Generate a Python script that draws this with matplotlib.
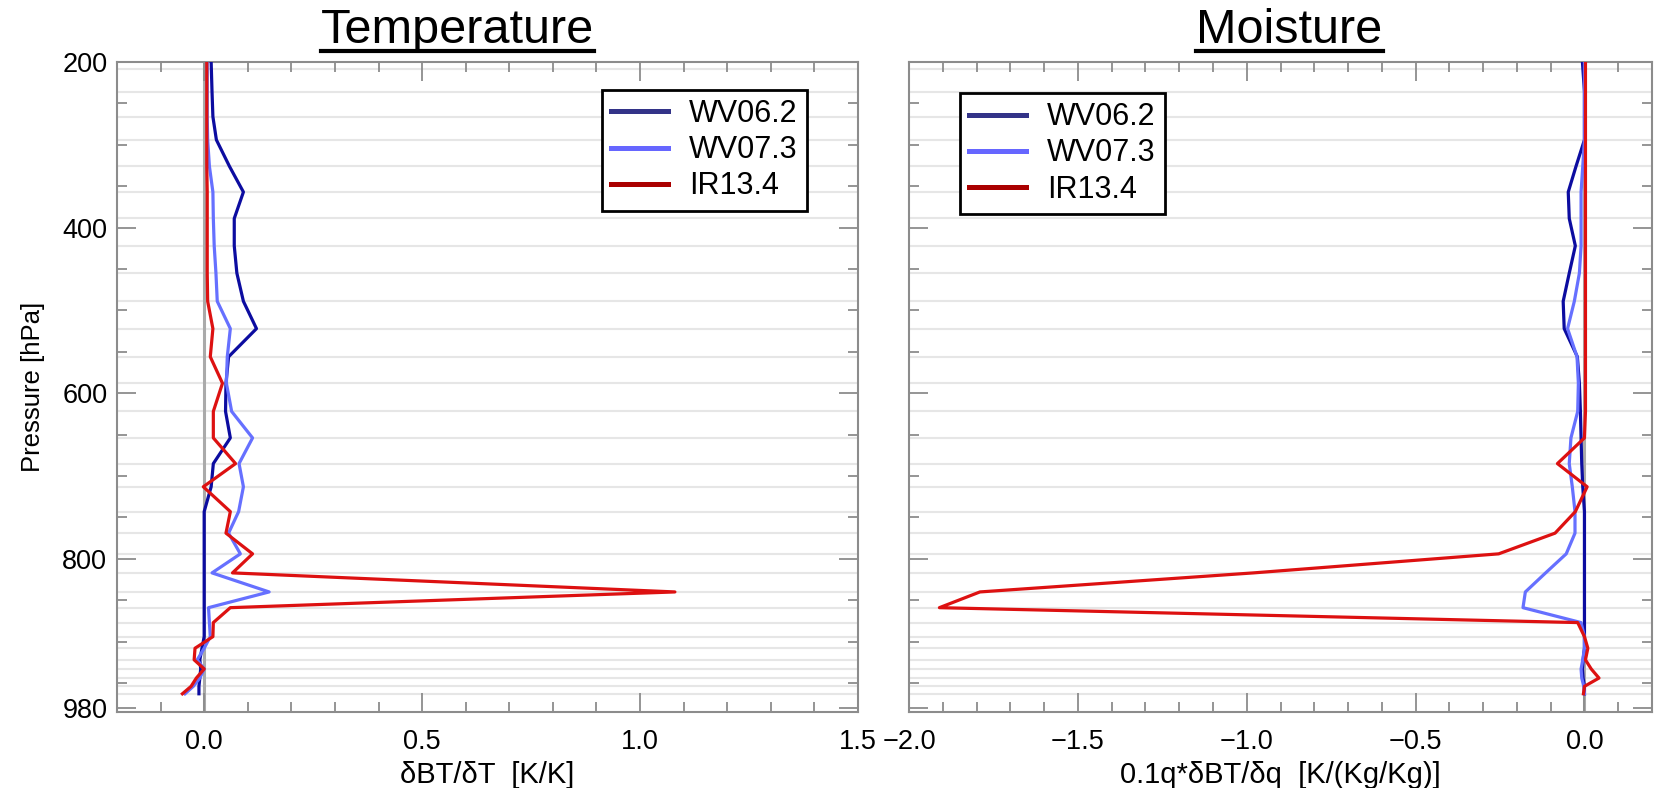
import matplotlib
matplotlib.use("Agg")
import matplotlib.pyplot as plt
from matplotlib.ticker import MultipleLocator, FixedLocator
from matplotlib.lines import Line2D

plt.rcParams['font.family'] = ['Liberation Sans', 'DejaVu Sans']

# pressure levels of the profiles [hPa]
pressure = [200, 236, 266, 294, 326, 357, 389, 422, 455, 489, 522, 556, 588, 622,
            654, 685, 713, 743, 769, 794, 817, 840, 859, 877, 894, 908, 922, 933,
            944, 954, 963]
# model levels drawn as light horizontal lines
grid_levels = [208, 236, 266, 294, 326, 357, 389, 422, 455, 489, 522, 556, 588, 622,
               654, 685, 713, 743, 769, 794, 817, 840, 859, 877, 894, 908, 922, 933,
               944, 954, 963]

channels = ['WV06.2', 'WV07.3', 'IR13.4']

# temperature jacobians dBT/dT [K/K]
t_wv62 = [0.016, 0.018, 0.02, 0.028, 0.058, 0.09, 0.069, 0.069, 0.075, 0.09, 0.12,
          0.056, 0.05, 0.049, 0.06, 0.021, 0.016, 0.0, 0.0, 0.0, 0.0, 0.0, 0.0, 0.0,
          0.0, -0.005, -0.01, -0.008, -0.01, -0.012, -0.012]
t_wv73 = [0.007, 0.007, 0.007, 0.008, 0.012, 0.02, 0.021, 0.023, 0.027, 0.03, 0.06,
          0.053, 0.051, 0.063, 0.111, 0.08, 0.09, 0.079, 0.056, 0.083, 0.018, 0.149,
          0.01, 0.012, 0.014, 0.0, -0.016, 0.0, -0.01, -0.025, -0.044]
t_ir134 = [0.006, 0.006, 0.006, 0.006, 0.006, 0.007, 0.007, 0.007, 0.007, 0.008, 0.02,
           0.014, 0.042, 0.021, 0.021, 0.072, -0.002, 0.06, 0.05, 0.111, 0.065, 1.08,
           0.06, 0.021, 0.02, -0.021, -0.023, 0.0, -0.018, -0.03, -0.05]

# moisture jacobians 0.1q*dBT/dq [K/(Kg/Kg)]
q_wv62 = [-0.006, 0.0, 0.0, 0.0, -0.025, -0.048, -0.045, -0.027, -0.045, -0.063, -0.06,
          -0.021, -0.015, -0.012, -0.01, -0.008, -0.005, 0.0, 0.0, 0.0, 0.0, 0.0, 0.0,
          0.0, 0.0, 0.0, -0.004, -0.006, -0.004, 0.0, 0.0]
q_wv73 = [0.0, 0.0, 0.0, 0.0, -0.005, -0.01, -0.01, -0.01, -0.015, -0.03, -0.05,
          -0.022, -0.018, -0.02, -0.04, -0.045, -0.036, -0.028, -0.028, -0.054, -0.115,
          -0.175, -0.182, -0.01, 0.0, 0.0, -0.005, -0.01, -0.008, -0.002, 0.0]
q_ir134 = [0.003, 0.003, 0.003, 0.003, 0.003, 0.003, 0.003, 0.003, 0.003, 0.003, 0.003,
           0.003, 0.003, 0.003, 0.0, -0.08, 0.008, -0.027, -0.087, -0.254, -0.98, -1.79,
           -1.91, -0.02, 0.0, 0.01, 0.003, 0.02, 0.043, 0.0, -0.003]

line_colors = ['#0c0ca0', '#6670ff', '#dd1111']
legend_colors = ['#333388', '#6666ff', '#aa0000']
spine_gray = '#8c8c8c'

fig = plt.figure(figsize=(16.54, 7.88), dpi=100)
W, H = 1654.0, 788.0
ax1 = fig.add_axes([117 / W, 76 / H, 741 / W, 650 / H])
ax2 = fig.add_axes([909 / W, 76 / H, 743 / W, 650 / H])


def style(ax, xlim, xlabel):
    for lev in grid_levels:
        ax.axhline(lev, color='#e6e6e6', lw=1.5, zorder=0)
    ax.axvline(0, color='#aaaaaa', lw=2.2, zorder=1)
    ax.set_xlim(*xlim)
    ax.set_ylim(985, 200)
    ax.xaxis.set_major_locator(MultipleLocator(0.5))
    ax.xaxis.set_minor_locator(MultipleLocator(0.1))
    ax.yaxis.set_major_locator(FixedLocator([200, 400, 600, 800, 980]))
    ax.yaxis.set_minor_locator(FixedLocator([250, 300, 350, 450, 500, 550, 650, 700,
                                             750, 850, 900, 950]))
    ax.tick_params(which='both', direction='in', top=True, right=True,
                   color=spine_gray, width=1.3)
    ax.tick_params(which='major', length=14, labelsize=19.5)
    ax.tick_params(which='minor', length=7)
    ax.tick_params(axis='x', pad=12)
    ax.tick_params(axis='y', pad=7)
    for sp in ax.spines.values():
        sp.set_color(spine_gray)
        sp.set_linewidth(1.5)
    ax.set_xlabel(xlabel, fontsize=21, labelpad=4.5)


style(ax1, (-0.2, 1.5), 'δBT/δT  [K/K]')
style(ax2, (-2.0, 0.2), '0.1q*δBT/δq  [K/(Kg/Kg)]')
ax2.tick_params(axis='y', labelleft=False)
ax1.set_ylabel('Pressure [hPa]', fontsize=18.5, labelpad=12)

for vals, c in zip([t_wv62, t_wv73, t_ir134], line_colors):
    ax1.plot(vals, pressure, color=c, lw=2.3, zorder=3)
for vals, c in zip([q_wv62, q_wv73, q_ir134], line_colors):
    ax2.plot(vals, pressure, color=c, lw=2.3, zorder=3)

handles = [Line2D([], [], color=c, lw=3.6) for c in legend_colors]
for ax, loc, anchor in [(ax1, 'upper right', (0.931, 0.957)),
                        (ax2, 'upper left', (0.069, 0.952))]:
    leg = ax.legend(handles, channels, loc=loc, bbox_to_anchor=anchor, fontsize=22,
                    fancybox=False, framealpha=1, edgecolor='black',
                    handlelength=1.85, handletextpad=0.7, labelspacing=0.2,
                    borderpad=0.3, borderaxespad=0)
    leg.get_frame().set_linewidth(2)

# underlined panel titles
titles = []
for ax, name, dx in [(ax1, 'Temperature', -30), (ax2, 'Moisture', 9)]:
    pos = ax.get_position()
    t = fig.text(pos.x0 + pos.width / 2 + dx / W, 745 / H, name, ha='center',
                 va='baseline', fontsize=35)
    titles.append(t)

fig.canvas.draw()
renderer = fig.canvas.get_renderer()
for t in titles:
    bb = t.get_window_extent(renderer)
    fig.add_artist(Line2D([bb.x0 / W, bb.x1 / W], [737 / H, 737 / H],
                          color='black', lw=3, transform=fig.transFigure))

fig.savefig('out.png', dpi=100)
